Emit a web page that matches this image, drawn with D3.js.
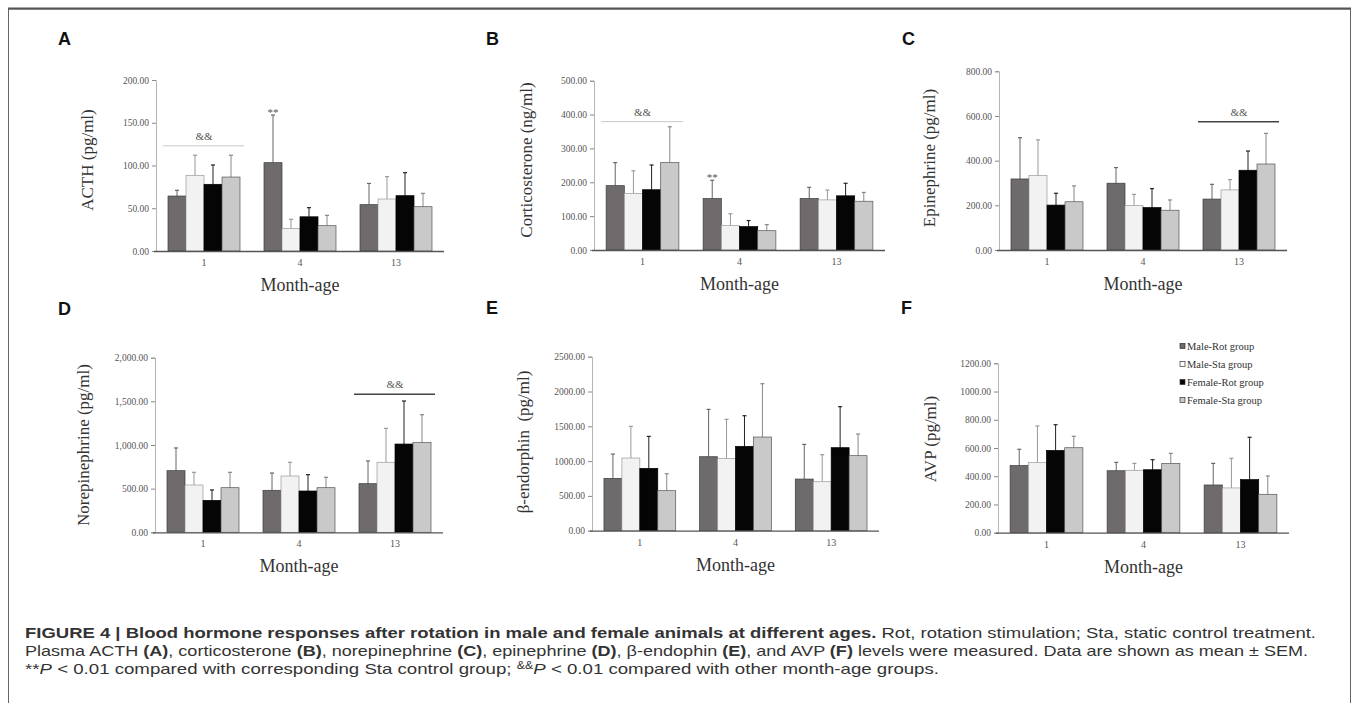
<!DOCTYPE html>
<html>
<head>
<meta charset="utf-8">
<script src="https://cdn.jsdelivr.net/npm/d3@7"></script>
<style>
body { margin: 0; background: #fff; }
svg { display: block; }
</style>
</head>
<body>
<svg width="1357" height="703"></svg>
<script>
// categories
var ages = ['1', '4', '13'];
var groups = ['Male-Rot group', 'Male-Sta group', 'Female-Rot group', 'Female-Sta group'];

// means and SEM, one row per month-age, one column per group
var acthMean = [[64.3, 88.5, 78, 86.5], [103.3, 26.5, 40, 29.6], [54.2, 60.8, 64.7, 51.8]];
var acthSem = [[6.7, 23.5, 22.6, 25.5], [55.7, 10.5, 10.7, 12.1], [24.8, 26.2, 26.9, 15.6]];
var cortMean = [[190, 167, 178, 258], [152, 72, 69, 57], [152, 148, 160, 144]];
var cortSem = [[68, 67, 73, 106], [54, 35, 18, 18], [33, 29, 37, 26]];
var epiMean = [[318, 333, 201, 216], [299, 199, 190, 178], [228, 269, 357, 385]];
var epiSem = [[185, 160, 53, 71], [70, 50, 85, 46], [66, 46, 86, 137]];
var norMean = [[706, 542, 366, 511], [481, 645, 473, 511], [557, 802, 1011, 1027]];
var norSem = [[260, 145, 119, 176], [198, 157, 187, 119], [260, 389, 493, 320]];
var endoMean = [[752, 1044, 896, 575], [1063, 1039, 1212, 1346], [742, 704, 1193, 1078]];
var endoSem = [[349, 455, 459, 244], [680, 561, 440, 766], [498, 388, 589, 311]];
var avpMean = [[475, 496, 583, 602], [439, 442, 446, 491], [338, 317, 376, 272]];
var avpSem = [[116, 260, 182, 81], [59, 49, 71, 71], [153, 210, 300, 130]];

// tick labels
var acthTicks = [0, 50, 100, 150, 200];
var cortTicks = [0, 100, 200, 300, 400, 500];
var epiTicks = [0, 200, 400, 600, 800];
var norTicks = [0, 500, 1000, 1500, 2000];
var endoTicks = [0, 500, 1000, 1500, 2000, 2500];
var avpTicks = [0, 200, 400, 600, 800, 1000, 1200];

var groupFill = ['#6f6b6c', '#f2f2f2', '#050505', '#c9c9c9'];
var groupStroke = ['#3a3a3a', '#9a9a9a', '#000', '#555'];
var errColor = ['#666', '#999', '#222', '#888'];

var svg = d3.select('svg');
var serif = '"Liberation Serif", "Times New Roman", serif';
var sans = '"Liberation Sans", Arial, Helvetica, sans-serif';

// outer frame
svg.append('path')
  .attr('d', 'M8.5,712 L8.5,9 L1350.5,9 L1350.5,712')
  .attr('fill', 'none').attr('stroke', '#666').attr('stroke-width', 1);
svg.append('line').attr('x1', 8).attr('x2', 1351).attr('y1', 8.5).attr('y2', 8.5)
  .attr('stroke', '#555').attr('stroke-width', 2);

var panels = [
  {letter: 'A', lx: 58, ly: 45, label: 'ACTH (pg/ml)', labX: 87, labY: 160, mean: acthMean, sem: acthSem, ticks: acthTicks, fmt: '.2f',
    x0: 156, x1: 444, yTop: 80, yBot: 251, amp: {age: 0, value: 123, dark: false}, stars: [[1, 0]]},
  {letter: 'B', lx: 486, ly: 45, label: 'Corticosterone (ng/ml)', labX: 526, labY: 160, mean: cortMean, sem: cortSem, ticks: cortTicks, fmt: '.2f',
    x0: 594, x1: 885, yTop: 80.7, yBot: 250, amp: {age: 0, value: 379, dark: false}, stars: [[1, 0]]},
  {letter: 'C', lx: 902, ly: 45, label: 'Epinephrine (pg/ml)', labX: 929, labY: 158, mean: epiMean, sem: epiSem, ticks: epiTicks, fmt: '.2f',
    x0: 999, x1: 1287, yTop: 71.3, yBot: 250, amp: {age: 2, value: 574, dark: true}, stars: []},
  {letter: 'D', lx: 58, ly: 315, label: 'Norepinephrine (pg/ml)', labX: 83, labY: 445, mean: norMean, sem: norSem, ticks: norTicks, fmt: ',.2f',
    x0: 155, x1: 443, yTop: 357.7, yBot: 532.3, amp: {age: 2, value: 1581, dark: true}, stars: []},
  {letter: 'E', lx: 486, ly: 314, label: '\u03b2-endorphin\u00a0\u00a0(pg/ml)', labX: 523, labY: 442, mean: endoMean, sem: endoSem, ticks: endoTicks, fmt: '.2f',
    x0: 592, x1: 879, yTop: 356.7, yBot: 530.7, amp: null, stars: []},
  {letter: 'F', lx: 901, ly: 314, label: 'AVP (pg/ml)', labX: 930, labY: 439, mean: avpMean, sem: avpSem, ticks: avpTicks, fmt: '.2f',
    x0: 998, x1: 1289, yTop: 363.3, yBot: 532.7, amp: null, stars: [], legend: true}
];

panels.forEach(function(p) {
  var g = svg.append('g');

  g.append('text').text(p.letter)
    .attr('x', p.lx).attr('y', p.ly)
    .attr('font-family', sans).attr('font-weight', 'bold').attr('font-size', 18).attr('fill', '#111');

  var x = d3.scaleBand().domain(ages).range([p.x0, p.x1]).paddingInner(0.25).paddingOuter(0.125);
  var xg = d3.scaleBand().domain(d3.range(groups.length)).range([0, x.bandwidth()]);
  var ymax = p.ticks[p.ticks.length - 1];
  var y = d3.scaleLinear().domain([0, ymax]).range([p.yBot, p.yTop]);

  // y axis
  var ya = g.append('g').attr('transform', 'translate(' + p.x0 + ',0)')
    .call(d3.axisLeft(y).tickValues(p.ticks).tickFormat(d3.format(p.fmt)).tickSize(4).tickPadding(3));
  ya.select('.domain').attr('stroke', '#b5b5b5');
  ya.selectAll('.tick line').attr('stroke', '#888');
  ya.selectAll('.tick text').attr('font-family', serif).attr('font-size', 9.5).attr('fill', '#555');

  // bars
  ages.forEach(function(a, ai) {
    groups.forEach(function(gr, gi) {
      var m = p.mean[ai][gi], s = p.sem[ai][gi];
      var bx = x(a) + xg(gi), bw = xg.bandwidth();
      var cx = bx + bw / 2;
      g.append('line')
        .attr('x1', cx).attr('x2', cx).attr('y1', y(m)).attr('y2', y(m + s))
        .attr('stroke', errColor[gi]).attr('stroke-width', 1);
      g.append('line')
        .attr('x1', cx - 2).attr('x2', cx + 2).attr('y1', y(m + s)).attr('y2', y(m + s))
        .attr('stroke', errColor[gi]).attr('stroke-width', 1.2);
      g.append('rect')
        .attr('x', bx).attr('y', y(m)).attr('width', bw).attr('height', y(0) - y(m))
        .attr('fill', groupFill[gi]).attr('stroke', groupStroke[gi]).attr('stroke-width', 0.7);
    });
  });

  // x axis
  g.append('line').attr('x1', p.x0 - 2).attr('x2', p.x1).attr('y1', p.yBot + 0.5).attr('y2', p.yBot + 0.5)
    .attr('stroke', '#555').attr('stroke-width', 1.3);
  g.selectAll('.cat').data(ages).enter().append('text')
    .attr('x', function(d) { return x(d) + x.bandwidth() / 2; })
    .attr('y', p.yBot + 15)
    .attr('text-anchor', 'middle')
    .attr('font-family', serif).attr('font-size', 10).attr('fill', '#555')
    .text(function(d) { return d; });

  g.append('text').text('Month-age')
    .attr('x', (p.x0 + p.x1) / 2).attr('y', p.yBot + 40)
    .attr('text-anchor', 'middle')
    .attr('font-family', serif).attr('font-size', 18).attr('fill', '#333');

  g.append('text').text(p.label)
    .attr('transform', 'translate(' + p.labX + ',' + p.labY + ') rotate(-90)')
    .attr('text-anchor', 'middle').attr('dy', '0.35em')
    .attr('font-family', serif).attr('font-size', 17).attr('fill', '#333');

  // && annotation
  if (p.amp) {
    var ax = x(ages[p.amp.age]);
    var ly = y(p.amp.value);
    g.append('line')
      .attr('x1', ax - 5).attr('x2', ax + x.bandwidth() + 4).attr('y1', ly).attr('y2', ly)
      .attr('stroke', p.amp.dark ? '#444' : '#c8c8c8').attr('stroke-width', p.amp.dark ? 1.5 : 1);
    g.append('text').text('&&')
      .attr('x', ax + x.bandwidth() / 2).attr('y', ly - 6)
      .attr('text-anchor', 'middle')
      .attr('font-family', serif).attr('font-size', 11).attr('fill', '#555');
  }

  // ** annotation
  p.stars.forEach(function(st) {
    var ai = st[0], gi = st[1];
    var cx = x(ages[ai]) + xg(gi) + xg.bandwidth() / 2;
    g.append('text').text('**')
      .attr('x', cx).attr('y', y(p.mean[ai][gi] + p.sem[ai][gi]) + 1)
      .attr('text-anchor', 'middle')
      .attr('font-family', serif).attr('font-size', 11).attr('fill', '#555');
  });

  // legend
  if (p.legend) {
    var lg = g.append('g').attr('transform', 'translate(1180,346)');
    groups.forEach(function(gr, gi) {
      lg.append('rect')
        .attr('x', 0).attr('y', gi * 18 - 2.5).attr('width', 5).attr('height', 5)
        .attr('fill', gi === 1 ? '#fff' : groupFill[gi]).attr('stroke', '#333').attr('stroke-width', 0.7);
      lg.append('text').text(gr)
        .attr('x', 7).attr('y', gi * 18).attr('dy', '0.35em')
        .attr('font-family', serif).attr('font-size', 10.5).attr('fill', '#333');
    });
  }
});

// caption
var cap = svg.append('g').attr('font-family', sans).attr('font-size', 15).attr('fill', '#333');

var l1 = cap.append('text').attr('x', 25).attr('y', 638).attr('textLength', 1291).attr('lengthAdjust', 'spacingAndGlyphs');
l1.append('tspan').attr('font-weight', 'bold').text('FIGURE 4 | Blood hormone responses after rotation in male and female animals at different ages.');
l1.append('tspan').text(' Rot, rotation stimulation; Sta, static control treatment.');

var l2 = cap.append('text').attr('x', 25).attr('y', 656).attr('textLength', 1283).attr('lengthAdjust', 'spacingAndGlyphs');
var l2parts = [['Plasma ACTH ', 0], ['(A)', 1], [', corticosterone ', 0], ['(B)', 1], [', norepinephrine ', 0], ['(C)', 1],
  [', epinephrine ', 0], ['(D)', 1], [', \u03b2-endophin ', 0], ['(E)', 1], [', and AVP ', 0], ['(F)', 1],
  [' levels were measured. Data are shown as mean \u00b1 SEM.', 0]];
l2parts.forEach(function(d) {
  l2.append('tspan').attr('font-weight', d[1] ? 'bold' : null).text(d[0]);
});

var l3 = cap.append('text').attr('x', 25).attr('y', 674).attr('textLength', 914).attr('lengthAdjust', 'spacingAndGlyphs');
l3.append('tspan').text('**');
l3.append('tspan').attr('font-style', 'italic').text('P');
l3.append('tspan').text(' < 0.01 compared with corresponding Sta control group; ');
l3.append('tspan').attr('font-size', 10).attr('dy', -5).text('&&');
l3.append('tspan').attr('font-style', 'italic').attr('dy', 5).text('P');
l3.append('tspan').text(' < 0.01 compared with other month-age groups.');
</script>
</body>
</html>
